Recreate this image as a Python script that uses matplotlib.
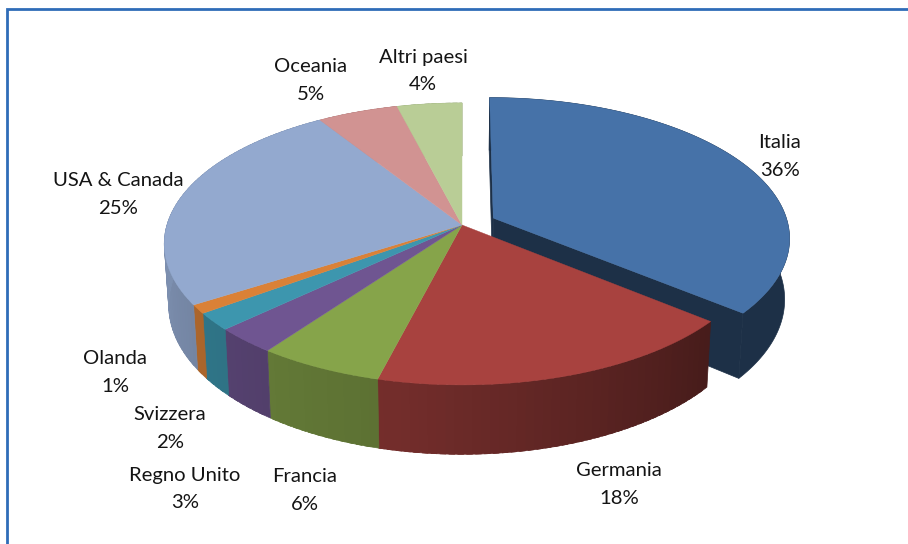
import numpy as np
import matplotlib
matplotlib.use("Agg")
import matplotlib.pyplot as plt
from matplotlib.patches import Polygon

categories = ["Italia", "Germania", "Francia", "Regno Unito", "Svizzera", "Olanda",
              "USA & Canada", "Oceania", "Altri paesi"]
shares = [36, 18, 6, 3, 2, 1, 25, 5, 4]
top_colors = ["#4672A8", "#A8423F", "#86A44A", "#6F5591", "#3D96AE", "#DA8137",
              "#93A9CF", "#D19392", "#B9CD96"]
label_pos = [(780, 142), (619, 469), (305, 476), (185, 474), (170, 413), (115, 357),
             (118, 180), (311, 66), (423, 56)]

plt.rcParams["font.family"] = ["Lato", "DejaVu Sans"]
fig = plt.figure(figsize=(9.08, 5.44), dpi=100, facecolor="white")
ax = fig.add_axes([0, 0, 1, 1])
ax.set_xlim(0, 908)
ax.set_ylim(544, 0)
ax.axis("off")

CX, CY, A, B, K = 462, 225, 295, 138.4, 0.1346
DEPTH, SHRINK, EXPLODE = 60, 0.985, 0.118


def project(X, Y, bottom=False):
    w = 1 + K * Y
    x = A * X / w
    y = CY - B * Y / w
    if bottom:
        return CX + SHRINK * x, y + DEPTH / w
    return CX + x, y


def shade(theta):
    return np.interp(theta % 360, [0, 130, 190, 265, 360], [0.55, 0.42, 0.68, 0.85, 0.85])


def darken(color, f):
    r, g, b = matplotlib.colors.to_rgb(color)
    return (r * f, g * f, b * f)


def face(X, Y, color, z):
    tx, ty = project(X, Y)
    bx, by = project(X, Y, True)
    pts = np.column_stack([np.r_[tx, bx[::-1]], np.r_[ty, by[::-1]]])
    ax.add_patch(Polygon(pts, closed=True, fc=color, ec=color, lw=0.5, zorder=z))


def slice_(start, end, color, ox, oy, z, flat=None):
    th = np.linspace(start, end, max(int(end - start) * 2, 2) + 1)
    rad = np.radians(th)
    X = ox + np.sin(rad)
    Y = oy + np.cos(rad)
    if flat:
        face(X, Y, darken(color, flat), z)
    else:
        # rim facets, each one overlapping the next so no seams show
        step = 3
        for i in range(0, len(th) - 1, step):
            j = min(i + step + 2, len(th) - 1)
            f = shade((th[i] + th[min(i + step, len(th) - 1)]) / 2)
            face(X[i:j + 1], Y[i:j + 1], darken(color, f), z)
    # top face
    px, py = project(np.r_[ox, X], np.r_[oy, Y])
    ax.add_patch(Polygon(np.column_stack([px, py]), closed=True, fc=color, ec=color,
                         lw=0.3, zorder=z + 2))
    return X, Y


angles = np.cumsum([0] + shares) * 3.6
# exploded first slice, drawn behind the rest
mid = np.radians((angles[0] + angles[1]) / 2)
ox, oy = EXPLODE * np.sin(mid), EXPLODE * np.cos(mid)
X, Y = slice_(angles[0], angles[1], top_colors[0], ox, oy, 1, flat=0.42)
navy = darken(top_colors[0], 0.42)
face(np.array([ox, X[0]]), np.array([oy, Y[0]]), navy, 2)
face(np.array([ox, X[-1]]), np.array([oy, Y[-1]]), navy, 2)

for i in range(1, len(shares)):
    slice_(angles[i], angles[i + 1], top_colors[i], 0, 0, 5)

for name, val, (lx, ly) in zip(categories, shares, label_pos):
    ax.text(lx, ly + 1, name, ha="center", va="center", fontsize=14.6, color="#141414", zorder=10)
    ax.text(lx, ly + 29, f"{val}%", ha="center", va="center", fontsize=14.6, color="#141414", zorder=10)

# outer frame
frame = "#2F6CB8"
ax.plot([6.5, 6.5, 908], [544, 9, 9], color=frame, lw=2.0, solid_joinstyle="miter", zorder=12)

fig.savefig("out.png", dpi=100, facecolor="white")
